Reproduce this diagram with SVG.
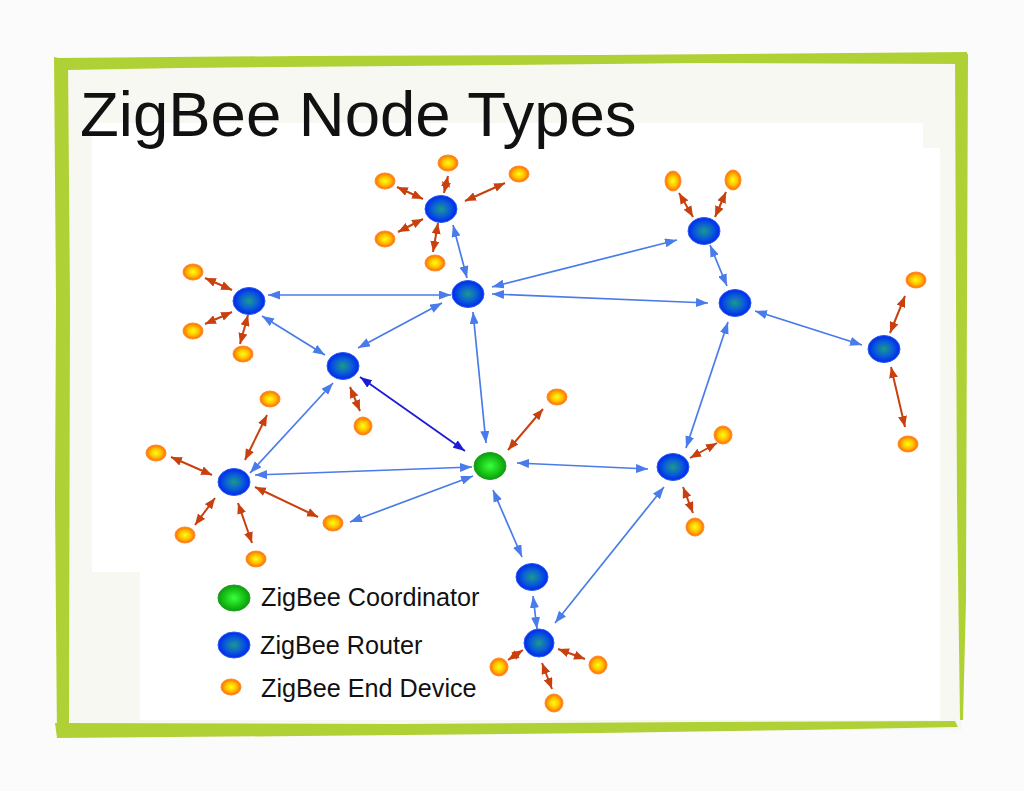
<svg xmlns="http://www.w3.org/2000/svg" width="1024" height="791" viewBox="0 0 1024 791">
<defs>
<style>
.b{stroke:#4a7bea;stroke-width:1.7;fill:none;marker-start:url(#ab);marker-end:url(#ab)}
.d{stroke:#1c1cd6;stroke-width:1.8;fill:none;marker-start:url(#ad);marker-end:url(#ad)}
.r{stroke:#c9400f;stroke-width:2;fill:none;marker-start:url(#ar);marker-end:url(#ar)}
.router{fill:url(#gr);stroke:#2a5cf0;stroke-width:1}
.coord{fill:url(#gc);stroke:#1aa01a;stroke-width:1}
.ed{fill:url(#ge);stroke:#ff8a30;stroke-width:1}
.lbl{font-family:"Liberation Sans",Arial,sans-serif;fill:#111}
.frame{fill:#afd136}
</style>
<radialGradient id="gr" cx="50%" cy="50%" r="50%">
<stop offset="0" stop-color="#1a9a8c"/>
<stop offset="0.55" stop-color="#0b5fd4"/>
<stop offset="1" stop-color="#0026f0"/>
</radialGradient>
<radialGradient id="gc" cx="50%" cy="50%" r="50%">
<stop offset="0" stop-color="#3cff3c"/>
<stop offset="0.6" stop-color="#18c818"/>
<stop offset="1" stop-color="#0f9a12"/>
</radialGradient>
<radialGradient id="ge" cx="50%" cy="50%" r="50%">
<stop offset="0" stop-color="#ffff10"/>
<stop offset="0.55" stop-color="#ffc000"/>
<stop offset="1" stop-color="#ff6a00"/>
</radialGradient>
<marker id="ab" markerUnits="userSpaceOnUse" markerWidth="12" markerHeight="9" refX="12" refY="4.5" orient="auto-start-reverse"><path d="M0,0 L12,4.5 L0,9 z" fill="#4a7bea"/></marker>
<marker id="ad" markerUnits="userSpaceOnUse" markerWidth="12" markerHeight="9" refX="12" refY="4.5" orient="auto-start-reverse"><path d="M0,0 L12,4.5 L0,9 z" fill="#1c1cd6"/></marker>
<marker id="ar" markerUnits="userSpaceOnUse" markerWidth="11" markerHeight="9" refX="11" refY="4.5" orient="auto-start-reverse"><path d="M0,0 L11,4.5 L0,9 z" fill="#c9400f"/></marker>
</defs>
<rect width="1024" height="791" fill="#fbfbfb"/>
<rect x="60" y="60" width="902" height="670" fill="#f8f8f3"/>
<polygon points="92,123 923,123 923,148 940,148 940,720 140,720 140,572 92,572" fill="#ffffff"/>
<g id="frame">
<polygon class="frame" points="55,58 300,56 600,55 967,52 968,64 700,63 400,66 180,68 68,70"/>
<polygon class="frame" points="54,57 68,60 70,300 69,723 57,738 55,500 56,300"/>
<polygon class="frame" points="55,723 400,724 700,722 955,721 958,727 800,730 600,733 300,736 57,738"/>
<polygon class="frame" points="955,54 968,54 967,300 966,600 963,720 960,720 957,500 956,300"/>
</g>
<text id="title" class="lbl" x="80" y="136" font-size="63.5" fill="#000">ZigBee Node Types</text>
<g id="connectors">
<line class="b" x1="453" y1="225" x2="467" y2="278"/>
<line class="b" x1="268" y1="295" x2="451" y2="295"/>
<line class="b" x1="262" y1="316" x2="325" y2="355"/>
<line class="b" x1="358" y1="348" x2="442" y2="303"/>
<line class="d" x1="360" y1="377" x2="465" y2="451"/>
<line class="b" x1="250" y1="473" x2="333" y2="383"/>
<line class="b" x1="255" y1="475" x2="472" y2="467"/>
<line class="b" x1="350" y1="522" x2="473" y2="476"/>
<line class="b" x1="473" y1="312" x2="486" y2="443"/>
<line class="b" x1="492" y1="287" x2="677" y2="240"/>
<line class="b" x1="492" y1="294" x2="708" y2="303"/>
<line class="b" x1="710" y1="245" x2="727" y2="286"/>
<line class="b" x1="755" y1="311" x2="862" y2="345"/>
<line class="b" x1="728" y1="322" x2="686" y2="448"/>
<line class="b" x1="517" y1="463" x2="648" y2="469"/>
<line class="b" x1="493" y1="490" x2="522" y2="557"/>
<line class="b" x1="533" y1="596" x2="537" y2="629"/>
<line class="b" x1="664" y1="487" x2="555" y2="623"/>
<line class="r" x1="397" y1="187" x2="423" y2="199"/>
<line class="r" x1="448" y1="176" x2="444" y2="193"/>
<line class="r" x1="505" y1="183" x2="465" y2="201"/>
<line class="r" x1="398" y1="232" x2="423" y2="219"/>
<line class="r" x1="433" y1="252" x2="438" y2="223"/>
<line class="r" x1="205" y1="278" x2="232" y2="290"/>
<line class="r" x1="205" y1="324" x2="232" y2="312"/>
<line class="r" x1="240" y1="344" x2="248" y2="315"/>
<line class="r" x1="350" y1="387" x2="360" y2="411"/>
<line class="r" x1="171" y1="457" x2="212" y2="475"/>
<line class="r" x1="267" y1="415" x2="245" y2="460"/>
<line class="r" x1="195" y1="525" x2="215" y2="498"/>
<line class="r" x1="238" y1="503" x2="252" y2="543"/>
<line class="r" x1="255" y1="487" x2="318" y2="517"/>
<line class="r" x1="543" y1="409" x2="508" y2="450"/>
<line class="r" x1="679" y1="193" x2="693" y2="217"/>
<line class="r" x1="726" y1="192" x2="715" y2="217"/>
<line class="r" x1="905" y1="296" x2="890" y2="333"/>
<line class="r" x1="891" y1="367" x2="905" y2="427"/>
<line class="r" x1="717" y1="443" x2="690" y2="458"/>
<line class="r" x1="683" y1="487" x2="693" y2="513"/>
<line class="r" x1="523" y1="650" x2="508" y2="660"/>
<line class="r" x1="558" y1="649" x2="585" y2="659"/>
<line class="r" x1="542" y1="663" x2="552" y2="689"/>
</g>
<g id="routers">
<ellipse id="r1" class="router" cx="441" cy="209" rx="16" ry="13.5"/>
<ellipse id="r2" class="router" cx="704" cy="231" rx="16" ry="13.5"/>
<ellipse id="r3" class="router" cx="468" cy="294" rx="16" ry="13.5"/>
<ellipse id="r4" class="router" cx="249" cy="301" rx="16" ry="13.5"/>
<ellipse id="r5" class="router" cx="735" cy="303" rx="16" ry="13.5"/>
<ellipse id="r6" class="router" cx="884" cy="349" rx="16" ry="13.5"/>
<ellipse id="r7" class="router" cx="343" cy="366" rx="16" ry="13.5"/>
<ellipse id="r8" class="router" cx="234" cy="482" rx="16" ry="13.5"/>
<ellipse id="r9" class="router" cx="673" cy="467" rx="16" ry="13.5"/>
<ellipse id="r10" class="router" cx="532" cy="577" rx="16" ry="13.5"/>
<ellipse id="r11" class="router" cx="539" cy="643" rx="15" ry="14"/>
</g>
<g id="coordinator">
<ellipse class="coord" cx="490" cy="466" rx="16" ry="13.5"/>
</g>
<g id="end-devices">
<ellipse class="ed" cx="385" cy="181" rx="10" ry="8"/>
<ellipse class="ed" cx="448" cy="163" rx="10" ry="8"/>
<ellipse class="ed" cx="519" cy="174" rx="10" ry="8"/>
<ellipse class="ed" cx="385" cy="239" rx="10" ry="8"/>
<ellipse class="ed" cx="435" cy="263" rx="10" ry="8"/>
<ellipse class="ed" cx="673" cy="181" rx="8" ry="10"/>
<ellipse class="ed" cx="733" cy="180" rx="8" ry="10"/>
<ellipse class="ed" cx="193" cy="272" rx="10" ry="8"/>
<ellipse class="ed" cx="193" cy="331" rx="10" ry="8"/>
<ellipse class="ed" cx="243" cy="354" rx="10" ry="8"/>
<ellipse class="ed" cx="916" cy="280" rx="10" ry="8"/>
<ellipse class="ed" cx="908" cy="444" rx="10" ry="8"/>
<ellipse class="ed" cx="363" cy="426" rx="9" ry="9"/>
<ellipse class="ed" cx="557" cy="397" rx="10" ry="8"/>
<ellipse class="ed" cx="156" cy="453" rx="10" ry="8"/>
<ellipse class="ed" cx="270" cy="399" rx="10" ry="8"/>
<ellipse class="ed" cx="185" cy="535" rx="10" ry="8"/>
<ellipse class="ed" cx="256" cy="559" rx="10" ry="8"/>
<ellipse class="ed" cx="333" cy="523" rx="10" ry="8"/>
<ellipse class="ed" cx="723" cy="435" rx="9" ry="9"/>
<ellipse class="ed" cx="695" cy="527" rx="9" ry="9"/>
<ellipse class="ed" cx="499" cy="667" rx="9" ry="9"/>
<ellipse class="ed" cx="598" cy="665" rx="9" ry="9"/>
<ellipse class="ed" cx="554" cy="703" rx="9" ry="9"/>
</g>
<g id="legend">
<ellipse class="coord" cx="234" cy="598" rx="16" ry="13"/>
<text class="lbl" x="261" y="606" font-size="25.2">ZigBee Coordinator</text>
<ellipse class="router" cx="234" cy="645" rx="16" ry="13"/>
<text class="lbl" x="260" y="654" font-size="25.2">ZigBee Router</text>
<ellipse class="ed" cx="231" cy="687" rx="10" ry="8"/>
<text class="lbl" x="261" y="697" font-size="25.2">ZigBee End Device</text>
</g>
</svg>
